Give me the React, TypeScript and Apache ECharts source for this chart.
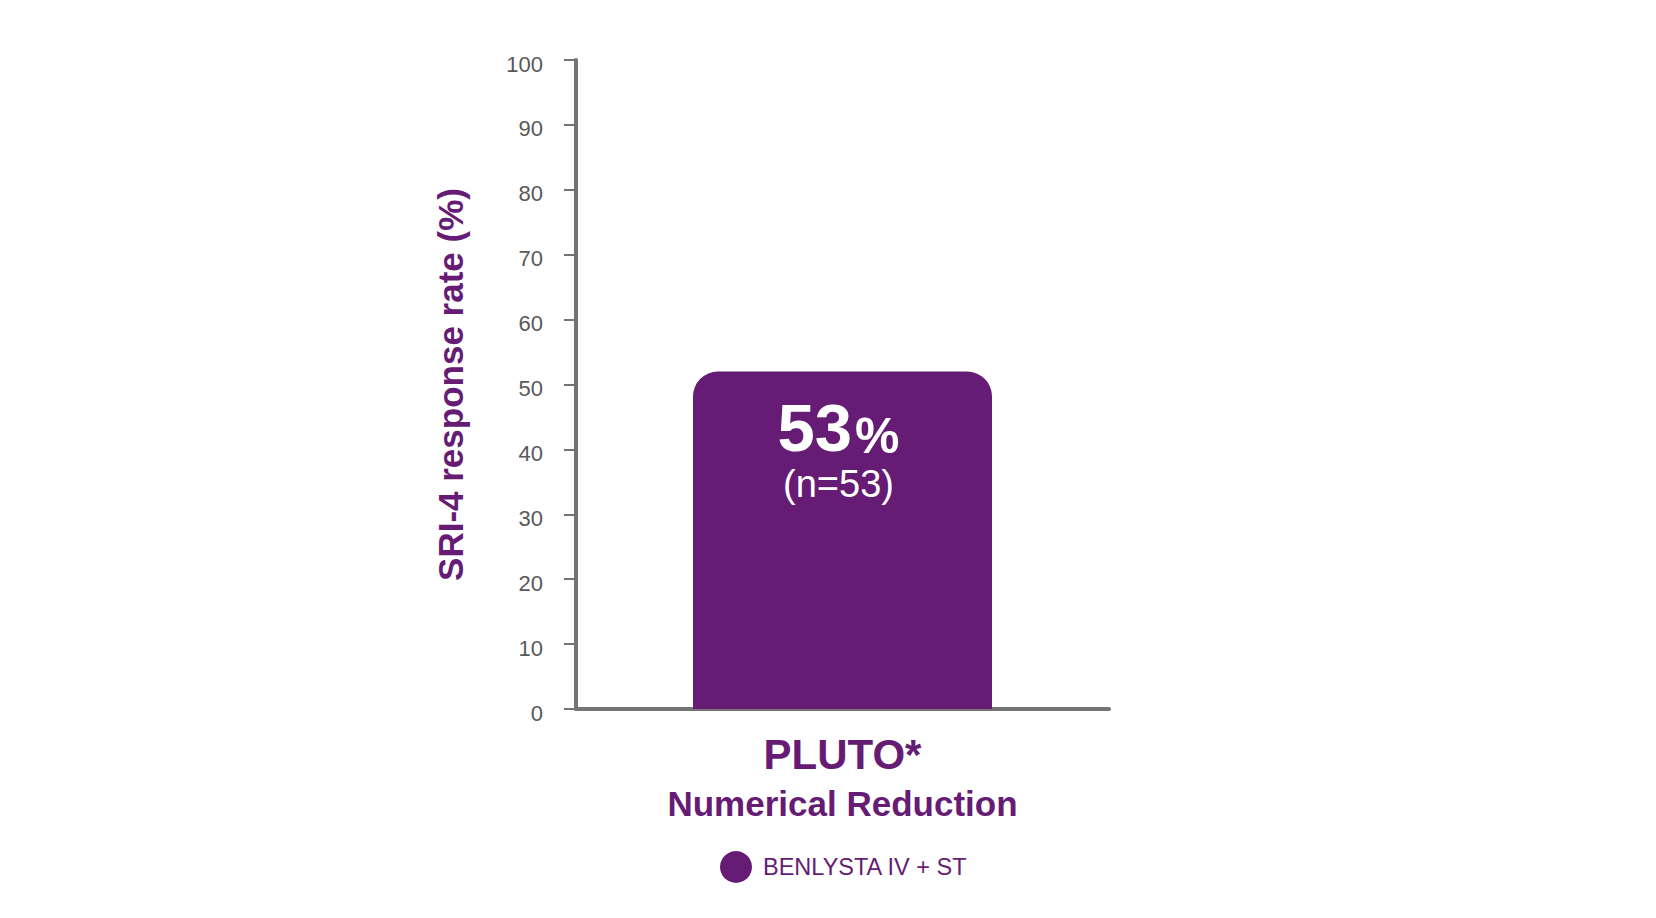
import React, { useEffect, useRef } from "react";
import * as echarts from "echarts";

const categories = ["PLUTO*"];
const categorySubtitles = ["Numerical Reduction"];
const seriesName = "BENLYSTA IV + ST";
const barValues = [52];
const percentLabels = ["53"];
const nLabels = ["(n=53)"];
const yTicks = { min: 0, max: 100, interval: 10 };
const yAxisTitle = "SRI-4 response rate (%)";

const PURPLE = "#661c74";
const AXIS_GREY = "#747474";
const FONT = "'Liberation Sans', Arial, sans-serif";

export default function App() {
  const ref = useRef<HTMLDivElement>(null);

  useEffect(() => {
    if (!ref.current) return;
    const chart = echarts.init(ref.current, undefined, { renderer: "svg" });
    chart.setOption({
      animation: false,
      backgroundColor: "#ffffff",
      textStyle: { fontFamily: FONT },
      grid: { left: 576, right: 547, top: 60, bottom: 209, containLabel: false },
      legend: {
        data: [seriesName],
        left: 720,
        top: 851,
        padding: 0,
        icon: "circle",
        itemWidth: 32,
        itemHeight: 32,
        textStyle: {
          fontFamily: FONT,
          fontSize: 23.5,
          color: PURPLE,
          padding: [0, 0, 0, 6],
        },
      },
      xAxis: {
        type: "category",
        data: categories,
        axisLine: { show: true, lineStyle: { color: AXIS_GREY, width: 4 } },
        axisTick: { show: false },
        axisLabel: {
          margin: 20,
          interval: 0,
          formatter: (v: string, i: number) =>
            `{a|${v}}\n{b|${categorySubtitles[i] ?? ""}}`,
          rich: {
            a: {
              fontFamily: FONT,
              fontSize: 42,
              fontWeight: "bold",
              color: PURPLE,
              lineHeight: 50,
            },
            b: {
              fontFamily: FONT,
              fontSize: 35,
              fontWeight: "bold",
              color: PURPLE,
              lineHeight: 48,
            },
          },
        },
      },
      yAxis: {
        type: "value",
        min: yTicks.min,
        max: yTicks.max,
        interval: yTicks.interval,
        name: yAxisTitle,
        nameLocation: "middle",
        nameRotate: 90,
        nameGap: 108,
        nameTextStyle: {
          fontFamily: FONT,
          fontSize: 35,
          fontWeight: "bold",
          color: PURPLE,
        },
        axisLine: { show: true, lineStyle: { color: AXIS_GREY, width: 4 } },
        axisTick: {
          show: true,
          inside: false,
          length: 12,
          lineStyle: { color: AXIS_GREY, width: 2 },
        },
        axisLabel: {
          margin: 33,
          formatter: (v: number) => `{t|${v}}`,
          rich: {
            t: {
              fontFamily: FONT,
              fontSize: 22,
              color: "#595959",
              lineHeight: 22,
              padding: [8, 0, 0, 0],
            },
          },
        },
        splitLine: { show: false },
      },
      series: [
        {
          name: seriesName,
          type: "bar",
          data: barValues,
          barWidth: 299,
          itemStyle: { color: PURPLE, borderRadius: [25, 25, 0, 0] },
          label: {
            show: true,
            position: "insideTop",
            distance: 22,
            offset: [-4, 0],
            formatter: (p: any) =>
              `{a|${percentLabels[p.dataIndex]}}{b|%}\n{c|${nLabels[p.dataIndex]}}`,
            rich: {
              a: {
                fontFamily: FONT,
                fontSize: 67,
                fontWeight: "bold",
                color: "#ffffff",
                lineHeight: 67,
              },
              b: {
                fontFamily: FONT,
                fontSize: 50,
                fontWeight: "bold",
                color: "#ffffff",
                lineHeight: 56,
                verticalAlign: "bottom",
                padding: [0, 0, 0, 3],
              },
              c: {
                fontFamily: FONT,
                fontSize: 38,
                color: "#ffffff",
                lineHeight: 46,
              },
            },
          },
        },
      ],
    });
    return () => chart.dispose();
  }, []);

  return (
    <div
      ref={ref}
      style={{ position: "fixed", left: 0, top: 0, width: 1656, height: 918 }}
    />
  );
}
